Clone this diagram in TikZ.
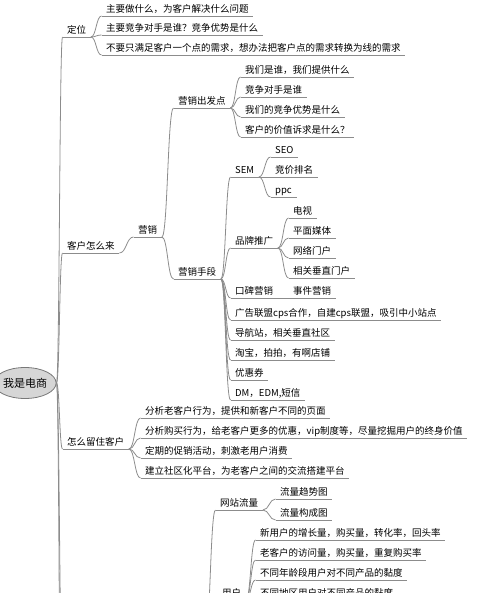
\documentclass[tikz,border=0pt]{standalone}
\usepackage{fontspec}
\newfontfamily\cjk{Noto Sans CJK SC}
\usetikzlibrary{shapes.geometric,calc}
\definecolor{lc}{RGB}{140,140,140}
\definecolor{rootfill}{RGB}{214,214,214}
\definecolor{rootline}{RGB}{120,120,120}
\tikzset{
  topic/.style={anchor=south west, inner xsep=4.5pt, inner ysep=1.5pt,
    text height=8.5pt, text depth=1.5pt, font=\cjk\fontsize{9.5}{11}\selectfont},
  rootnode/.style={ellipse, draw=rootline, fill=rootfill, line width=0.8pt,
    minimum width=51pt, minimum height=31pt, inner sep=0pt,
    font=\cjk\fontsize{11}{13}\selectfont},
  uline/.style={draw=lc, line width=0.8pt},
  conn/.style={draw=lc, line width=0.8pt,
    to path={let \p1=(\tikztostart), \p2=(\tikztotarget) in
      .. controls ({0.5*\x1+0.5*\x2},\y1) and ({0.5*\x1+0.5*\x2},\y2) .. (\tikztotarget)}}
}
\begin{document}
\begin{tikzpicture}[x=1pt,y=-1pt]
\useasboundingbox (0,0) rectangle (500,593);
\clip (0,0) rectangle (500,593);

% root
\node[rootnode] (root) at (25,383) {我是电商};

% level 1
\node[topic] (dw) at (62.5,37) {定位};
\node[topic] (kh) at (62.5,253) {客户怎么来};
\node[topic] (lz) at (62.5,449) {怎么留住客户};
\coordinate (off1) at (62.5,680);
\coordinate (off2) at (62.5,900);

% 定位
\node[topic] (d1) at (101.5,16) {主要做什么，为客户解决什么问题};
\node[topic] (d2) at (101.5,35) {主要竞争对手是谁？竞争优势是什么};
\node[topic] (d3) at (101.5,55) {不要只满足客户一个点的需求，想办法把客户点的需求转换为线的需求};

% 客户怎么来
\node[topic] (yx) at (133.5,237) {营销};
\node[topic] (cf) at (173.5,108) {营销出发点};
\node[topic] (c1) at (240.5,77) {我们是谁，我们提供什么};
\node[topic] (c2) at (240.5,97) {竞争对手是谁};
\node[topic] (c3) at (240.5,117) {我们的竞争优势是什么};
\node[topic] (c4) at (240.5,137) {客户的价值诉求是什么？};
\node[topic] (sd) at (173.5,279) {营销手段};
\node[topic] (sem) at (230.5,177) {SEM};
\node[topic] (seo) at (270.5,157) {SEO};
\node[topic] (jj) at (270.5,177) {竞价排名};
\node[topic] (ppc) at (270.5,197) {ppc};
\node[topic] (pp) at (230.5,248) {品牌推广};
\node[topic] (tv) at (288.5,218) {电视};
\node[topic] (pm) at (288.5,238) {平面媒体};
\node[topic] (wl) at (288.5,258) {网络门户};
\node[topic] (xg) at (288.5,278) {相关垂直门户};
\node[topic] (kb) at (230.5,298) {口碑营销};
\node[topic] (sj) at (288.5,298) {事件营销};
\node[topic] (gg) at (230.5,320) {广告联盟cps合作，自建cps联盟，吸引中小站点};
\node[topic] (dh) at (230.5,340) {导航站，相关垂直社区};
\node[topic] (tb) at (230.5,360) {淘宝，拍拍，有啊店铺};
\node[topic] (yhq) at (230.5,380) {优惠券};
\node[topic] (dm) at (230.5,400) {DM，EDM,短信};

% 怎么留住客户
\node[topic] (r1) at (140.5,418) {分析老客户行为，提供和新客户不同的页面};
\node[topic] (r2) at (140.5,438) {分析购买行为，给老客户更多的优惠，vip制度等，尽量挖掘用户的终身价值};
\node[topic] (r3) at (140.5,458) {定期的促销活动，刺激老用户消费};
\node[topic] (r4) at (140.5,478) {建立社区化平台，为老客户之间的交流搭建平台};

% bottom branch
\coordinate (pb) at (205,640);
\node[topic] (wz) at (215.5,510) {网站流量};
\node[topic] (l1) at (275.5,499) {流量趋势图};
\node[topic] (l2) at (275.5,520) {流量构成图};
\node[topic] (yh) at (217.5,600) {用户};
\node[topic] (u1) at (255.5,540) {新用户的增长量，购买量，转化率，回头率};
\node[topic] (u2) at (255.5,560) {老客户的访问量，购买量，重复购买率};
\node[topic] (u3) at (255.5,580) {不同年龄段用户对不同产品的黏度};
\node[topic] (u4) at (255.5,600) {不同地区用户对不同产品的黏度};

% underlines
\foreach \n in {dw,kh,lz,d1,d2,d3,yx,cf,c1,c2,c3,c4,sd,sem,seo,jj,ppc,pp,tv,pm,wl,xg,kb,sj,gg,dh,tb,yhq,dm,r1,r2,r3,r4,wz,l1,l2,yh,u1,u2,u3,u4}
  \draw[uline] (\n.south west) -- (\n.south east);

% connectors
\foreach \c in {dw,kh,lz} \draw[conn] (root.east) to (\c.south west);
\draw[conn] (root.east) to (off1);
\draw[conn] (root.east) to (off2);
\foreach \c in {d1,d2,d3} \draw[conn] (dw.south east) to (\c.south west);
\draw[conn] (kh.south east) to (yx.south west);
\foreach \c in {cf,sd} \draw[conn] (yx.south east) to (\c.south west);
\foreach \c in {c1,c2,c3,c4} \draw[conn] (cf.south east) to (\c.south west);
\foreach \c in {sem,pp,kb,gg,dh,tb,yhq,dm} \draw[conn] (sd.south east) to (\c.south west);
\foreach \c in {seo,jj,ppc} \draw[conn] (sem.south east) to (\c.south west);
\foreach \c in {tv,pm,wl,xg} \draw[conn] (pp.south east) to (\c.south west);
\draw[conn] (kb.south east) to (sj.south west);
\foreach \c in {r1,r2,r3,r4} \draw[conn] (lz.south east) to (\c.south west);
\foreach \c in {wz,yh} \draw[conn] (pb) to (\c.south west);
\foreach \c in {l1,l2} \draw[conn] (wz.south east) to (\c.south west);
\foreach \c in {u1,u2,u3,u4} \draw[conn] (yh.south east) to (\c.south west);
\end{tikzpicture}
\end{document}
